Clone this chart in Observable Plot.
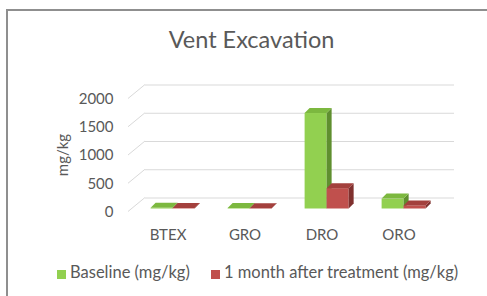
<!DOCTYPE html>
<html>
<head>
<meta charset="utf-8">
<script src="https://cdn.jsdelivr.net/npm/d3@7"></script>
<script src="https://cdn.jsdelivr.net/npm/@observablehq/plot@0.6"></script>
<style>
  html, body { margin: 0; padding: 0; background: #fff; }
  #wrap { position: relative; width: 487px; height: 296px; overflow: hidden; font-family: Lato, "Open Sans", sans-serif; color: #595959; }
  #border { position: absolute; left: 6px; top: 9px; width: 500px; height: 300px; border-left: 2px solid #8f8f8f; border-top: 2px solid #8f8f8f; }
  #title { position: absolute; left: 0; top: 28px; width: 487px; padding-left: 16px; box-sizing: border-box; text-align: center; font-size: 23.5px; line-height: 23px; }
  #chart { position: absolute; left: 0; top: 60px; }
  #ylabel { position: absolute; left: 62px; top: 155px; font-size: 15px; line-height: 15px; transform: translate(-50%, -50%) rotate(-90deg); white-space: nowrap; }
  .leg { position: absolute; top: 264px; font-size: 16.5px; line-height: 16px; white-space: nowrap; }
  .sw { position: absolute; top: 270px; width: 9px; height: 9px; }
</style>
</head>
<body>
<div id="wrap">
  <div id="border"></div>
  <div id="title"></div>
  <div id="chart"></div>
  <div id="ylabel"></div>
  <div id="legend"></div>
</div>
<script>
const title = "Vent Excavation";
const yLabel = "mg/kg";
const categories = ["BTEX", "GRO", "DRO", "ORO"];
const seriesNames = ["Baseline (mg/kg)", "1 month after treatment (mg/kg)"];
const baseline = [12, 10, 1690, 175];
const afterTreatment = [8, 6, 360, 55];
const yTicks = [0, 500, 1000, 1500, 2000];

const faceColors = {
  [seriesNames[0]]: {front: "#92d050", top: "#7cb83f", side: "#5f8f2f"},
  [seriesNames[1]]: {front: "#c0504d", top: "#a3403d", side: "#7f302e"}
};

const data = categories.flatMap((c, i) => [
  {cat: c, series: seriesNames[0], value: baseline[i]},
  {cat: c, series: seriesNames[1], value: afterTreatment[i]}
]);

const W = 487, H = 190;
const mL = 128, mR = 50, mT = 38.5, mB = 38.5;
const depthX = 17, depthY = -14;   // floor depth
const barDX = 5, barDY = -5;       // bar depth

function diagonals(index, scales, values, dims) {
  const g = d3.create("svg:g");
  for (const i of index) {
    const y = scales.y(yTicks[i]);
    g.append("line")
      .attr("x1", dims.marginLeft).attr("y1", y)
      .attr("x2", dims.marginLeft + depthX).attr("y2", y + depthY)
      .attr("stroke", "#d9d9d9").attr("stroke-width", 1);
  }
  return g.node();
}

function bars3d(index, scales, values, dims) {
  const g = d3.create("svg:g");
  const bw = (dims.width - dims.marginLeft - dims.marginRight) / categories.length;
  const w = bw * 0.285;
  const y0 = scales.y(0) - 3;
  for (const i of index) {
    const d = data[i];
    const c = faceColors[d.series];
    const cx = scales.x(d.cat) + bw / 2 + 5;
    const xl = d.series === seriesNames[0] ? cx - w : cx;
    const xr = xl + w;
    const yt = scales.y(d.value) - 3;
    g.append("rect").attr("x", xl).attr("y", yt).attr("width", w).attr("height", Math.max(0, y0 - yt)).attr("fill", c.front);
    g.append("polygon")
      .attr("points", [[xr, yt], [xr + barDX, yt + barDY], [xr + barDX, y0 + barDY], [xr, y0]].join(" "))
      .attr("fill", c.side);
    g.append("polygon")
      .attr("points", [[xl, yt], [xl + barDX, yt + barDY], [xr + barDX, yt + barDY], [xr, yt]].join(" "))
      .attr("fill", c.top);
  }
  return g.node();
}

const chart = Plot.plot({
  width: W,
  height: H,
  marginLeft: mL,
  marginRight: mR,
  marginTop: mT,
  marginBottom: mB,
  style: {fontFamily: "Lato, 'Open Sans', sans-serif", fontSize: "15px", color: "#595959", background: "transparent"},
  x: {type: "band", domain: categories, padding: 0, label: null, tickSize: 0, tickPadding: 17},
  y: {domain: [0, 2000], ticks: yTicks, tickFormat: d3.format("d"), label: null, tickSize: 0, tickPadding: 15},
  marks: [
    Plot.ruleY(yTicks, {stroke: "#d9d9d9", strokeWidth: 1, dx: depthX, dy: depthY}),
    Plot.ruleY(yTicks.map((v, i) => i), {y: (i) => yTicks[i], render: diagonals}),
    Plot.barY(data, {x: "cat", y: "value", render: bars3d})
  ]
});
document.getElementById("chart").appendChild(chart);
document.getElementById("title").textContent = title;
document.getElementById("ylabel").textContent = yLabel;

const legend = document.getElementById("legend");
const legendPos = [{sw: 57, tx: 70}, {sw: 211, tx: 224}];
seriesNames.forEach((s, k) => {
  const sw = document.createElement("div");
  sw.className = "sw";
  sw.style.left = legendPos[k].sw + "px";
  sw.style.background = faceColors[s].front;
  legend.appendChild(sw);
  const t = document.createElement("div");
  t.className = "leg";
  t.style.left = legendPos[k].tx + "px";
  t.textContent = s;
  legend.appendChild(t);
});
</script>
</body>
</html>
